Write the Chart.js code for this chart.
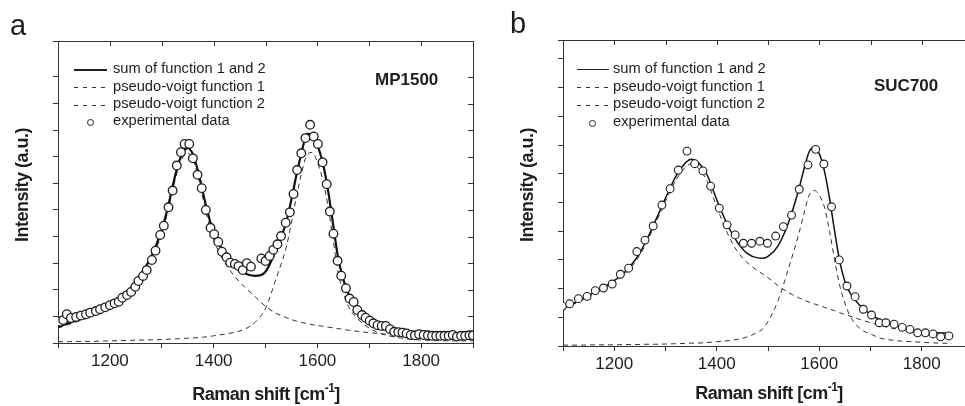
<!DOCTYPE html>
<html><head><meta charset="utf-8">
<script src="https://cdn.jsdelivr.net/npm/chart.js@4.4.1/dist/chart.umd.min.js"></script>
<style>
html,body{margin:0;padding:0;background:#fff;}
body{width:965px;height:406px;overflow:hidden;position:relative;font-family:"Liberation Sans",Arial,sans-serif;color:#1e1e1e;}
canvas{position:absolute;top:0;}
.t{position:absolute;white-space:nowrap;line-height:1;}
.letter{font-size:29px;}
.lg{font-size:14.7px;}
.tag{font-size:17px;font-weight:bold;}
.solid{position:absolute;height:0;border-top:2px solid #1e1e1e;}
.dash{position:absolute;height:1px;background:repeating-linear-gradient(to right,#333 0 4px,transparent 4px 9px);}
.circ{position:absolute;width:5px;height:5px;border:1.2px solid #222;border-radius:50%;background:#fff;}
.ax{font-weight:bold;font-size:18px;letter-spacing:-0.5px;}
.ax sup{font-size:12px;line-height:0;position:relative;top:-1px;}
.ylab{transform:translate(-50%,-50%) rotate(-90deg);}
</style></head>
<body>
<canvas id="ca" width="480" height="406" style="left:0;width:480px;height:406px"></canvas>
<canvas id="cb" width="500" height="406" style="left:480px;width:500px;height:406px"></canvas>

<!-- panel a overlays -->
<div class="t letter" style="left:10px;top:11px">a</div>
<div class="solid" style="left:74px;top:69px;width:33px"></div>
<div class="t lg" style="left:113px;top:61px">sum of function 1 and 2</div>
<div class="dash" style="left:74px;top:87px;width:35px"></div>
<div class="t lg" style="left:113px;top:78.5px">pseudo-voigt function 1</div>
<div class="dash" style="left:74px;top:105px;width:35px"></div>
<div class="t lg" style="left:113px;top:95.5px">pseudo-voigt function 2</div>
<div class="circ" style="left:87px;top:119px"></div>
<div class="t lg" style="left:113px;top:113px">experimental data</div>
<div class="t tag" style="left:375px;top:71px">MP1500</div>
<div class="t ax" style="left:266px;top:385px;transform:translateX(-50%)">Raman shift [cm<sup>-1</sup>]</div>
<div class="t ax ylab" style="left:22px;top:185px">Intensity (a.u.)</div>

<!-- panel b overlays -->
<div class="t letter" style="left:510px;top:9px">b</div>
<div class="solid" style="left:577px;top:69px;width:32px;border-top-width:1.5px"></div>
<div class="t lg" style="left:613px;top:61px">sum of function 1 and 2</div>
<div class="dash" style="left:577px;top:87px;width:34px"></div>
<div class="t lg" style="left:613px;top:78.5px">pseudo-voigt function 1</div>
<div class="dash" style="left:577px;top:105px;width:34px"></div>
<div class="t lg" style="left:613px;top:96px">pseudo-voigt function 2</div>
<div class="circ" style="left:589px;top:120px"></div>
<div class="t lg" style="left:613px;top:114px">experimental data</div>
<div class="t tag" style="left:874px;top:77px">SUC700</div>
<div class="t ax" style="left:769px;top:384px;transform:translateX(-50%)">Raman shift [cm<sup>-1</sup>]</div>
<div class="t ax ylab" style="left:527px;top:185px">Intensity (a.u.)</div>

<script>
// ---------- data: panel a (MP1500) ----------
const fitShiftA = [1100,1120,1140,1160,1180,1200,1220,1240,1260,1280,1300,1310,1320,1330,1340,1350,1360,1370,1380,1390,1400,1420,1440,1460,1480,1500,1520,1540,1550,1560,1570,1580,1590,1600,1610,1620,1630,1640,1650,1660,1680,1700,1720,1740,1760,1780,1800,1820,1840,1860,1880,1900];
const sumA = [0.61,0.74,0.88,1.02,1.22,1.48,1.75,2.07,2.60,3.25,4.25,4.95,5.80,6.60,7.12,7.32,7.10,6.45,5.60,4.80,4.15,3.40,2.92,2.62,2.52,2.68,3.50,4.55,5.40,6.35,7.20,7.86,7.84,7.45,6.80,5.80,4.50,3.20,2.40,1.85,1.30,0.95,0.72,0.58,0.48,0.41,0.36,0.33,0.31,0.29,0.28,0.27];
const pv1A = [0.56,0.69,0.82,0.96,1.16,1.40,1.66,1.97,2.49,3.13,4.12,4.81,5.65,6.44,6.95,7.14,6.91,6.25,5.38,4.56,3.88,3.07,2.52,2.10,1.74,1.38,1.12,0.95,0.88,0.82,0.77,0.73,0.69,0.66,0.63,0.60,0.57,0.54,0.51,0.48,0.43,0.39,0.35,0.32,0.29,0.27,0.25,0.23,0.22,0.21,0.20,0.19];
const pv2A = [0.05,0.05,0.06,0.06,0.07,0.08,0.09,0.10,0.11,0.12,0.13,0.14,0.15,0.16,0.17,0.18,0.19,0.20,0.22,0.24,0.27,0.33,0.40,0.52,0.78,1.30,2.40,3.60,4.52,5.53,6.43,7.07,7.16,6.79,6.17,5.20,3.93,2.66,1.89,1.37,0.87,0.56,0.37,0.26,0.19,0.14,0.11,0.10,0.09,0.08,0.08,0.08];
const expShiftA = [1103,1110,1117,1125,1135,1144,1154,1162,1173,1181,1191,1200,1209,1217,1224,1233,1241,1249,1255,1264,1271,1281,1288,1297,1304,1313,1321,1329,1337,1344,1353,1360,1369,1377,1385,1394,1401,1409,1416,1425,1432,1441,1448,1456,1464,1472,1492,1500,1508,1515,1523,1530,1539,1547,1554,1561,1569,1577,1586,1593,1601,1610,1618,1624,1631,1639,1646,1655,1662,1670,1677,1686,1693,1701,1708,1716,1724,1732,1740,1748,1756,1764,1772,1780,1788,1796,1805,1813,1821,1829,1837,1845,1853,1861,1869,1877,1885,1893,1900];
const expIntA = [0.80,0.86,1.08,0.94,0.98,1.03,1.08,1.14,1.20,1.27,1.34,1.42,1.49,1.55,1.70,1.80,1.92,2.11,2.33,2.52,2.74,3.12,3.47,4.06,4.41,5.10,5.73,6.67,7.17,7.48,7.48,6.94,6.32,5.82,5.00,4.33,4.09,3.80,3.43,3.22,3.02,2.97,2.89,2.74,3.00,2.87,3.18,3.08,3.27,3.50,3.71,4.02,4.52,4.91,5.60,6.50,7.13,7.70,8.20,7.76,7.48,6.79,5.97,4.94,4.11,3.09,2.53,2.06,1.67,1.54,1.24,1.05,0.95,0.84,0.74,0.67,0.64,0.64,0.52,0.42,0.41,0.39,0.36,0.30,0.29,0.33,0.30,0.29,0.27,0.27,0.27,0.27,0.27,0.30,0.24,0.27,0.27,0.29,0.29];

// ---------- data: panel b (SUC700) ----------
const fitShiftB = [1100,1120,1140,1160,1180,1200,1220,1240,1260,1280,1300,1320,1340,1350,1360,1380,1400,1420,1440,1460,1480,1490,1500,1520,1540,1560,1570,1580,1590,1600,1610,1620,1630,1640,1650,1660,1680,1700,1720,1740,1760,1780,1800,1820,1840,1858];
const sumB = [1.33,1.48,1.66,1.86,2.05,2.28,2.57,2.98,3.58,4.35,5.15,5.90,6.40,6.51,6.45,6.00,5.10,4.25,3.62,3.22,3.07,3.06,3.12,3.50,4.30,5.45,6.15,6.75,6.92,6.70,6.10,5.15,4.00,2.95,2.25,1.85,1.40,1.10,0.90,0.76,0.65,0.57,0.51,0.47,0.45,0.44];
const pv1B = [1.30,1.45,1.62,1.81,2.00,2.22,2.50,2.90,3.49,4.25,5.04,5.77,6.25,6.34,6.27,5.78,4.85,3.96,3.30,2.90,2.62,2.50,2.38,2.10,1.86,1.68,1.60,1.53,1.47,1.41,1.35,1.29,1.23,1.16,1.10,1.04,0.92,0.81,0.71,0.63,0.56,0.50,0.45,0.41,0.38,0.36];
const pv2B = [0.03,0.03,0.03,0.04,0.04,0.04,0.05,0.05,0.06,0.06,0.07,0.08,0.09,0.10,0.10,0.12,0.15,0.18,0.23,0.32,0.48,0.60,0.85,1.60,2.70,3.90,4.60,5.25,5.42,5.25,4.85,4.00,3.00,2.10,1.50,1.05,0.60,0.42,0.27,0.21,0.17,0.15,0.13,0.11,0.10,0.09];
const expShiftB = [1099,1113,1130,1147,1163,1179,1196,1212,1228,1244,1260,1276,1293,1309,1325,1342,1357,1373,1388,1405,1420,1436,1452,1468,1484,1499,1515,1530,1546,1561,1578,1593,1609,1624,1639,1654,1670,1686,1702,1717,1730,1746,1762,1777,1792,1807,1822,1837,1853];
const expIntB = [1.39,1.47,1.65,1.73,1.93,2.02,2.16,2.50,2.71,3.29,3.69,4.18,4.91,5.48,6.13,6.79,6.35,6.10,5.57,4.80,4.22,3.87,3.58,3.58,3.65,3.58,3.83,4.16,4.56,5.46,6.31,6.85,6.34,4.85,3.00,2.09,1.72,1.28,1.08,0.81,0.81,0.76,0.65,0.58,0.46,0.46,0.42,0.32,0.35];

// ---------- axes ----------
const xMin = 1100, xMax = 1900, xStep = 100;
const xTickLabels = [1200, 1400, 1600, 1800];

const zip = (xs, ys) => xs.map((x, i) => ({x, y: ys[i]}));
const INK = '#1e1e1e';

const frameTicks = {
  id: 'frameTicks',
  afterDraw(chart) {
    const {ctx, chartArea: a, scales: {x, y}} = chart;
    ctx.save();
    ctx.strokeStyle = '#333';
    ctx.lineWidth = 1;
    ctx.beginPath();
    ctx.moveTo(Math.round(a.left) + 0.5, Math.round(a.top) + 0.5);
    ctx.lineTo(Math.round(a.right) + 0.5, Math.round(a.top) + 0.5);
    ctx.lineTo(Math.round(a.right) + 0.5, Math.round(a.bottom) + 0.5);
    x.ticks.forEach(t => {
      const px = Math.round(x.getPixelForValue(t.value)) + 0.5;
      ctx.moveTo(px, a.top); ctx.lineTo(px, a.top + 5);
    });
    y.ticks.forEach(t => {
      const py = Math.round(y.getPixelForValue(t.value)) + 0.5;
      ctx.moveTo(a.right, py); ctx.lineTo(a.right - 5, py);
    });
    ctx.stroke();
    ctx.restore();
  }
};

function makeChart(id, p) {
  new Chart(document.getElementById(id), {
    type: 'scatter',
    data: {
      datasets: [
        {label: 'experimental data', data: zip(p.expX, p.expY), pointStyle: 'circle',
         pointRadius: p.r, pointBorderWidth: p.bw, borderColor: INK, backgroundColor: '#fff', showLine: false},
        {label: 'sum of function 1 and 2', data: zip(p.fitX, p.sum), showLine: true, borderColor: '#111',
         borderWidth: p.sw, pointRadius: 0, cubicInterpolationMode: 'monotone'},
        {label: 'pseudo-voigt function 1', data: zip(p.fitX, p.pv1), showLine: true, borderColor: '#333',
         borderWidth: 1, borderDash: [5, 4], pointRadius: 0, cubicInterpolationMode: 'monotone'},
        {label: 'pseudo-voigt function 2', data: zip(p.fitX, p.pv2), showLine: true, borderColor: '#333',
         borderWidth: 1, borderDash: [5, 4], pointRadius: 0, cubicInterpolationMode: 'monotone'}
      ]
    },
    options: {
      responsive: false, animation: false, devicePixelRatio: 1,
      layout: {padding: {top: p.top, right: p.right, left: 0, bottom: 0}},
      plugins: {legend: {display: false}, tooltip: {enabled: false}},
      scales: {
        x: {
          type: 'linear', min: xMin, max: xMax,
          afterFit: s => { s.height = p.xH; },
          afterBuildTicks: s => { s.ticks = []; for (let v = xMin; v <= xMax; v += xStep) s.ticks.push({value: v}); },
          ticks: {autoSkip: false, maxRotation: 0, padding: 3, color: INK,
                  font: {family: 'Liberation Sans', size: 17},
                  callback: v => xTickLabels.includes(v) ? String(v) : ''},
          grid: {drawOnChartArea: false, tickLength: 5, color: '#333'},
          border: {color: '#333', width: 1}
        },
        y: {
          type: 'linear', min: 0, max: p.yMax,
          afterFit: s => { s.width = p.yW; },
          ticks: {stepSize: 1, callback: () => ''},
          grid: {drawOnChartArea: false, tickLength: 5, color: '#333'},
          border: {color: '#333', width: 1}
        }
      }
    },
    plugins: [frameTicks]
  });
}

makeChart('ca', {fitX: fitShiftA, sum: sumA, pv1: pv1A, pv2: pv2A, expX: expShiftA, expY: expIntA,
  r: 4.3, bw: 1.3, sw: 2.2, yMax: 11.35, top: 41, right: 7, xH: 63, yW: 58});
makeChart('cb', {fitX: fitShiftB, sum: sumB, pv1: pv1B, pv2: pv2B, expX: expShiftB, expY: expIntB,
  r: 3.9, bw: 1.1, sw: 1.5, yMax: 10.66, top: 40, right: 7, xH: 60, yW: 83});
</script>
</body></html>
